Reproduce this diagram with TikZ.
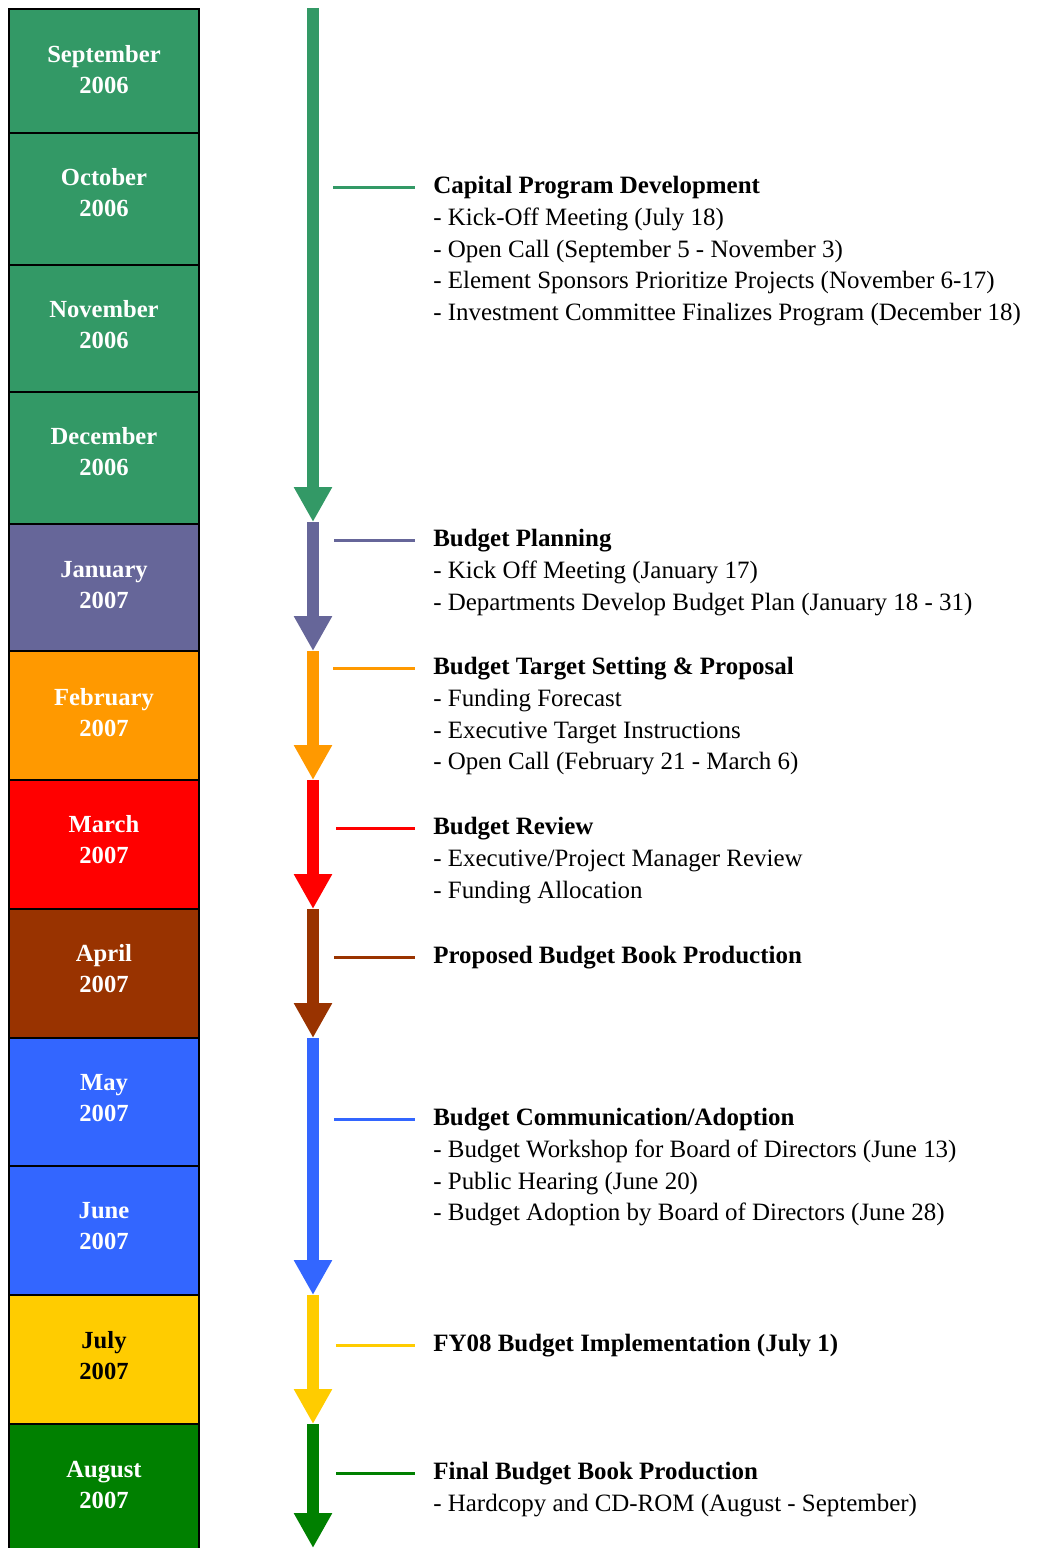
\documentclass[tikz,border=0pt]{standalone}
\usepackage{fontspec}
\setmainfont{Liberation Serif}
\usetikzlibrary{arrows.meta, positioning}
\definecolor{cgreen}{HTML}{339966}
\definecolor{cpurple}{HTML}{666699}
\definecolor{corange}{HTML}{FF9900}
\definecolor{cred}{HTML}{FF0000}
\definecolor{cbrown}{HTML}{993300}
\definecolor{cblue}{HTML}{3366FF}
\definecolor{cyellow}{HTML}{FFCC00}
\definecolor{cdkgreen}{HTML}{008000}
\tikzset{
  monthbox/.style={draw=black, line width=0.04cm},
  monthtext/.style={align=center, inner sep=0pt, font=\bfseries\fontsize{14}{17.6}\selectfont},
  timearrow/.style={line width=0.24cm, -{Triangle[length=0.7cm, width=0.72cm]}},
  tickline/.style={line width=0.06cm, shorten >=0.36cm},
  stage/.style={anchor=north west, yshift=12.7pt, inner sep=0pt, align=left, font=\fontsize{14.2}{18.14}\selectfont}
}

\begin{document}
\begin{tikzpicture}[x=0.02cm, y=-0.02cm]

    \useasboundingbox (0,0) rectangle (1039,1548);

    % Meses (columna izquierda)
    \foreach \i/\top/\bot/\ty/\mes/\yr/\col/\txt in {
        1/9/133/70/September/2006/cgreen/white,
        2/133/265/193/October/2006/cgreen/white,
        3/265/392/325/November/2006/cgreen/white,
        4/392/524/452/December/2006/cgreen/white,
        5/524/651/585/January/2007/cpurple/white,
        6/651/780/713/February/2007/corange/white,
        7/780/909/840/March/2007/cred/white,
        8/909/1038/969/April/2007/cbrown/white,
        9/1038/1166/1098/May/2007/cblue/white,
        10/1166/1295/1226/June/2007/cblue/white,
        11/1295/1424/1356/July/2007/cyellow/black,
        12/1424/1556/1485/August/2007/cdkgreen/white} {
        \draw[monthbox, fill=\col] (9,\top) rectangle (199,\bot);
        \node[monthtext, text=\txt] (m\i) at (104,\ty) {\mes\\\yr};
    }

    % Flechas de la linea de tiempo
    \coordinate (a0) at (313,8);
    \coordinate (a1) at (313,522);
    \coordinate (a2) at (313,651);
    \coordinate (a3) at (313,780);
    \coordinate (a4) at (313,909);
    \coordinate (a5) at (313,1038);
    \coordinate (a6) at (313,1295);
    \coordinate (a7) at (313,1424);
    \coordinate (a8) at (313,1548);
    \foreach \a/\b/\col in {a0/a1/cgreen, a1/a2/cpurple, a2/a3/corange, a3/a4/cred,
        a4/a5/cbrown, a5/a6/cblue, a6/a7/cyellow, a7/a8/cdkgreen} {
        \draw[timearrow, color=\col] (\a) -- (\b);
    }

    % --- ETAPAS ---

    % Capital Program Development
    \coordinate (k1) at (333,187);
    \node[stage] (cpd) at (433,193) {\strut\textbf{Capital Program Development}\\
        - Kick-Off Meeting (July 18)\\
        - Open Call (September 5 - November 3)\\
        - Element Sponsors Prioritize Projects (November 6-17)\\
        - Investment Committee Finalizes Program (December 18)};
    \draw[tickline, cgreen] (k1) -- (k1 -| cpd.west);

    % Budget Planning
    \coordinate (k2) at (334,540);
    \node[stage] (bpl) at (433,546) {\strut\textbf{Budget Planning}\\
        - Kick Off Meeting (January 17)\\
        - Departments Develop Budget Plan (January 18 - 31)};
    \draw[tickline, cpurple] (k2) -- (k2 -| bpl.west);

    % Budget Target Setting
    \coordinate (k3) at (333,668);
    \node[stage] (bts) at (433,674) {\strut\textbf{Budget Target Setting \& Proposal}\\
        - Funding Forecast\\
        - Executive Target Instructions\\
        - Open Call (February 21 - March 6)};
    \draw[tickline, corange] (k3) -- (k3 -| bts.west);

    % Budget Review
    \coordinate (k4) at (336,828);
    \node[stage] (brv) at (433,834) {\strut\textbf{Budget Review}\\
        - Executive/Project Manager Review\\
        - Funding Allocation};
    \draw[tickline, cred] (k4) -- (k4 -| brv.west);

    % Proposed Budget Book
    \coordinate (k5) at (334,957);
    \node[stage] (pbb) at (433,963) {\strut\textbf{Proposed Budget Book Production}};
    \draw[tickline, cbrown] (k5) -- (k5 -| pbb.west);

    % Budget Communication
    \coordinate (k6) at (334,1119);
    \node[stage] (bca) at (433,1125) {\strut\textbf{Budget Communication/Adoption}\\
        - Budget Workshop for Board of Directors (June 13)\\
        - Public Hearing (June 20)\\
        - Budget Adoption by Board of Directors (June 28)};
    \draw[tickline, cblue] (k6) -- (k6 -| bca.west);

    % FY08 Implementation
    \coordinate (k7) at (336,1345);
    \node[stage] (fyi) at (433,1351) {\strut\textbf{FY08 Budget Implementation (July 1)}};
    \draw[tickline, cyellow] (k7) -- (k7 -| fyi.west);

    % Final Budget Book
    \coordinate (k8) at (336,1473);
    \node[stage] (fbb) at (433,1479) {\strut\textbf{Final Budget Book Production}\\
        - Hardcopy and CD-ROM (August - September)};
    \draw[tickline, cdkgreen] (k8) -- (k8 -| fbb.west);

\end{tikzpicture}
\end{document}
